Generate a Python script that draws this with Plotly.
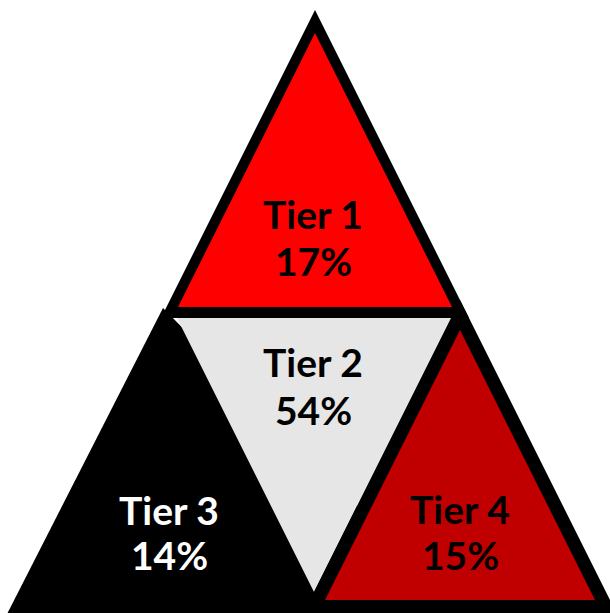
import plotly.graph_objects as go

# ---- data ----
tiers = ["Tier 1", "Tier 2", "Tier 3", "Tier 4"]
shares = [17, 54, 14, 15]
fill_colors = ["#FF0000", "#E6E6E6", "#000000", "#C00000"]
text_colors = ["#000000", "#000000", "#FFFFFF", "#000000"]

# ---- layout geometry (pixel space of the 610x613 canvas) ----
W, H = 610, 613
black = "#000000"
polys = [
    # Tier 1 outline + fill
    ([315, 161, 469], [10, 318, 318], black),
    ([315, 178, 452], [33, 307, 307], fill_colors[0]),
    # Tier 3 (solid black, extends under Tier 2)
    ([163, 4, 470], [308, 620, 620], fill_colors[2]),
    # Tier 2 (inverted)
    ([177, 451, 314], [318, 318, 592], fill_colors[1]),
    # Tier 4 outline + fill
    ([460, 300, 620], [300, 620, 620], black),
    ([460, 325, 595], [330, 600, 600], fill_colors[3]),
]
# label centres: (x, y of first line, y of second line)
label_pos = [(313, 214, 261), (313, 362, 410), (169, 510, 555), (460, 509, 555)]

fig = go.Figure()
for xs, ys, col in polys:
    fig.add_trace(go.Scatter(x=xs + [xs[0]], y=ys + [ys[0]], mode="lines",
                             fill="toself", fillcolor=col,
                             line=dict(width=0, color=col),
                             hoverinfo="skip", showlegend=False))

font_family = "Lato, 'Open Sans', sans-serif"
for name, share, tc, (lx, y1, y2) in zip(tiers, shares, text_colors, label_pos):
    for txt, ly in ((name, y1), (f"{share}%", y2)):
        fig.add_annotation(x=lx, y=ly, xref="x", yref="y", text=f"<b>{txt}</b>",
                           showarrow=False, xanchor="center", yanchor="middle",
                           font=dict(family=font_family, size=39, color=tc))

fig.update_xaxes(range=[0, W], visible=False, fixedrange=True)
fig.update_yaxes(range=[H, 0], visible=False, fixedrange=True)
fig.update_layout(width=W, height=H, margin=dict(l=0, r=0, t=0, b=0),
                  paper_bgcolor="white", plot_bgcolor="white")
fig.write_html("out.html", config={"displayModeBar": False},
               post_script="document.body.style.margin='0';document.body.style.overflow='hidden';")
